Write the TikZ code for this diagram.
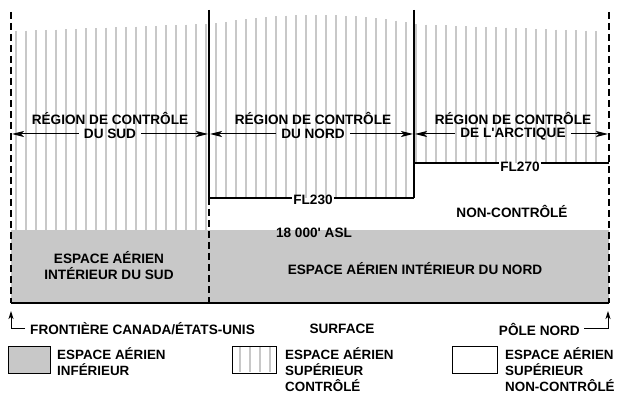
\documentclass[tikz,border=0pt]{standalone}
\usepackage{fontspec}
\setmainfont{Liberation Sans}
\usetikzlibrary{arrows.meta}
\definecolor{hatchgray}{RGB}{200,200,200}
\definecolor{fillgray}{RGB}{200,200,200}
\begin{document}
\begin{tikzpicture}[x=1pt,y=-1pt,
  lbl/.style={font=\fontsize{13.6}{16}\selectfont\bfseries, inner sep=0pt, align=center},
  lgd/.style={font=\fontsize{13.4}{16}\selectfont\bfseries, inner sep=0pt, align=left, anchor=north west},
  bdry/.style={line width=1.4pt},
  dsh/.style={line width=1.3pt, dash pattern=on 7pt off 4pt},
  hatch/.style={hatchgray, line width=2pt},
  dimarrow/.style={line width=1pt, -{Stealth[length=12pt,width=6pt,inset=3pt]}},
  uparrow/.style={line width=1pt, -{Stealth[length=8pt,width=5pt,inset=2pt]}},
  lgdbox/.style={draw, line width=1pt},
]
\useasboundingbox (0,0) rectangle (618,395);
\fill[white] (0,0) rectangle (618,395);
% lower airspace
\fill[fillgray] (11,230) rectangle (609,303);
% controlled upper airspace hatching
\foreach \i in {0,...,58} {
  \pgfmathsetmacro\xx{15.7+10*\i}
  \pgfmathsetmacro\yt{\xx<209 ? 31-7*(\xx-15.7)/190 : (\xx<414 ? 15+(0.0292*(\xx-315))^2 : 24+7*(\xx-405.7)/190)}
  \pgfmathsetmacro\yb{\xx<209 ? 230 : (\xx<414 ? 198 : 163)}
  \draw[hatch] (\xx,\yt) -- (\xx,\yb);
}
% boundaries
\coordinate (lt) at (11,12);
\coordinate (lb) at (11,303);
\coordinate (rt) at (609,12);
\coordinate (rb) at (609,303);
\coordinate (m1t) at (209,10);
\coordinate (m1f) at (209,198);
\coordinate (m1b) at (209,303);
\coordinate (m2t) at (414,10);
\coordinate (m2f) at (414,198);
\coordinate (m2u) at (414,163);
\coordinate (rf) at (609,163);
\draw[dsh] (lt) -- (lb);
\draw[dsh] (rt) -- (rb);
\draw[bdry] (m1t) -- (m1f);
\draw[dsh] (m1f) -- (m1b);
\draw[bdry] (m2t) -- (m2f);
\draw[bdry] (lb) -- (rb);
% FL labels
\node[lbl] (fl230) at (313,200) {FL230};
\node[lbl] (fl270) at (520,167) {FL270};
\draw[bdry] (m1f) -- ([xshift=-1pt]fl230.west |- m1f);
\draw[bdry] ([xshift=1pt]fl230.east |- m1f) -- (m2f);
\draw[bdry] (m2u) -- ([xshift=-1pt]fl270.west |- m2u);
\draw[bdry] ([xshift=1pt]fl270.east |- m2u) -- (rf);
% region labels
\node[lbl] (r1a) at (110,118) {RÉGION DE CONTRÔLE};
\node[lbl] (r1b) at (110,134) {DU SUD};
\node[lbl] (r2a) at (313,118) {RÉGION DE CONTRÔLE};
\node[lbl] (r2b) at (313,134) {DU NORD};
\node[lbl] (r3a) at (513,118) {RÉGION DE CONTRÔLE};
\node[lbl] (r3b) at (513,134) {DE L\textquotesingle ARCTIQUE};
\coordinate (a1l) at (12,134);
\coordinate (a1r) at (208,134);
\coordinate (a2l) at (210,134);
\coordinate (a2r) at (413,134);
\coordinate (a3l) at (415,134);
\coordinate (a3r) at (608,134);
\draw[dimarrow] ([xshift=-5pt]r1b.west) -- (a1l);
\draw[dimarrow] ([xshift=5pt]r1b.east) -- (a1r);
\draw[dimarrow] ([xshift=-5pt]r2b.west) -- (a2l);
\draw[dimarrow] ([xshift=5pt]r2b.east) -- (a2r);
\draw[dimarrow] ([xshift=-5pt]r3b.west) -- (a3l);
\draw[dimarrow] ([xshift=5pt]r3b.east) -- (a3r);
% other labels
\node[lbl] (nc) at (512,211) {NON-CONTRÔLÉ};
\node[lbl] (asl) at (314,233) {18 000\textquotesingle\ ASL};
\node[lbl] (sud) at (109,266) {ESPACE AÉRIEN\\INTÉRIEUR DU SUD};
\node[lbl] (nord) at (415,269) {ESPACE AÉRIEN INTÉRIEUR DU NORD};
% bottom labels
\node[lbl, anchor=west] (front) at (30,329) {FRONTIÈRE CANADA/ÉTATS-UNIS};
\node[lbl] (surf) at (342,329) {SURFACE};
\node[lbl, anchor=east] (pole) at (580,329) {PÔLE NORD};
\coordinate (fc) at (11,328);
\coordinate (ftip) at (11,311);
\coordinate (pc) at (608,328);
\coordinate (ptip) at (608,311);
\draw[uparrow] ([xshift=-5pt]front.west |- fc) -- (fc) -- (ftip);
\draw[uparrow] ([xshift=4pt]pole.east |- pc) -- (pc) -- (ptip);
% legend
\node[lgdbox, fill=fillgray, minimum width=42pt, minimum height=27pt, anchor=north west, inner sep=0pt] (k1) at (8,346) {};
\node[lgd] (t1) at (57,347) {ESPACE AÉRIEN\\INFÉRIEUR};
\node[lgdbox, fill=white, minimum width=44pt, minimum height=27pt, anchor=north west, inner sep=0pt] (k2) at (232,346) {};
\foreach \xx in {240,250,260,270} {
  \draw[hatch] (\xx,347) -- (\xx,372);
}
\node[lgdbox, minimum width=44pt, minimum height=27pt, anchor=north west, inner sep=0pt] at (232,346) {};
\node[lgd] (t2) at (285,347) {ESPACE AÉRIEN\\SUPÉRIEUR\\CONTRÔLÉ};
\node[lgdbox, fill=white, minimum width=45pt, minimum height=27pt, anchor=north west, inner sep=0pt] (k3) at (452,346) {};
\node[lgd] (t3) at (505,347) {ESPACE AÉRIEN\\SUPÉRIEUR\\NON-CONTRÔLÉ};
\end{tikzpicture}
\end{document}
